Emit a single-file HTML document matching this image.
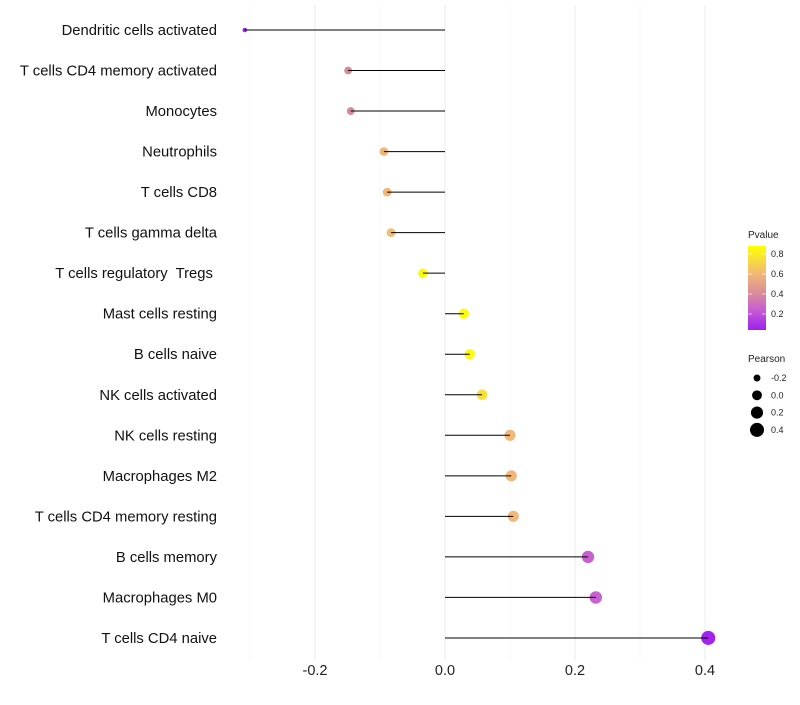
<!DOCTYPE html>
<html><head><meta charset="utf-8"><style>
body{margin:0;background:#fff;font-family:"Liberation Sans",sans-serif}
</style></head><body>
<svg id="chart" width="800" height="700" xmlns="http://www.w3.org/2000/svg"></svg>
<script>
const categories=["Dendritic cells activated","T cells CD4 memory activated","Monocytes","Neutrophils","T cells CD8","T cells gamma delta","T cells regulatory  Tregs\u00a0","Mast cells resting","B cells naive","NK cells activated","NK cells resting","Macrophages M2","T cells CD4 memory resting","B cells memory","Macrophages M0","T cells CD4 naive"];
const pearson=[-0.308,-0.149,-0.145,-0.094,-0.089,-0.083,-0.034,0.029,0.038,0.057,0.100,0.102,0.105,0.220,0.232,0.405];
const pvalue=[0.05,0.40,0.40,0.60,0.60,0.62,0.87,0.86,0.86,0.75,0.60,0.60,0.60,0.25,0.25,0.05];
const xTicks=[-0.2,0,0.2,0.4];
const xTickLabels=["-0.2","0.0","0.2","0.4"];
const pLegendTicks=[0.2,0.4,0.6,0.8];
const sizeLegend=[-0.2,0,0.2,0.4];
const sizeLegendLabels=["-0.2","0.0","0.2","0.4"];

const svg=document.getElementById('chart');
const NS="http://www.w3.org/2000/svg";
function mk(t,a,p){const e=document.createElementNS(NS,t);for(const k in a)e.setAttribute(k,a[k]);(p||svg).appendChild(e);return e;}
const x=v=>445+v*650;
const y=i=>30+i*40.53;
const r=v=>Math.sqrt(Math.max(3,12+62*(v+0.2)));
const stops=[[0.04,[160,32,240]],[0.25,[200,96,208]],[0.4,[217,138,153]],[0.6,[240,184,120]],[0.88,[255,255,0]]];
function col(p){p=Math.max(0.04,Math.min(0.88,p));for(let i=0;i<stops.length-1;i++){const a=stops[i],b=stops[i+1];if(p<=b[0]){const t=(p-a[0])/(b[0]-a[0]);const c=a[1].map((v,k)=>Math.round(v+(b[1][k]-v)*t));return `rgb(${c})`;}}return 'rgb(255,255,0)';}

for(let k=-3;k<=4;k++){const v=k/10;const g=mk('line',{x1:x(v),x2:x(v),y1:5,y2:660,stroke:k%2===0?'#ebebeb':'#f4f4f4','stroke-width':k%2===0?1:0.7});

}
xTicks.forEach((v,i)=>{const t=mk('text',{x:x(v),y:675,'text-anchor':'middle','font-size':14.5,fill:'#222'});t.textContent=xTickLabels[i];

});
categories.forEach((c,i)=>{
 const t=mk('text',{x:217,y:y(i)+5,'text-anchor':'end','font-size':14.8,fill:'#111'});t.setAttribute('xml:space','preserve');t.style.whiteSpace='pre';t.textContent=c;
 
 
 const d=mk('circle',{cx:x(pearson[i]),cy:y(i),r:r(pearson[i]),fill:col(pvalue[i])});
 
 
 const l=mk('line',{x1:x(0),x2:x(pearson[i]),y1:y(i),y2:y(i),stroke:'#000','stroke-width':1});
 
 
});
const lt=mk('text',{x:748,y:238,'font-size':10,fill:'#222'});lt.textContent='Pvalue';


const defs=mk('defs',{});const lg=mk('linearGradient',{id:'pg',x1:0,y1:1,x2:0,y2:0},defs);
stops.forEach(s=>mk('stop',{offset:(s[0]-0.04)/0.84,'stop-color':`rgb(${s[1]})`},lg));
const bar=mk('rect',{x:748,y:246,width:18,height:84,fill:'url(#pg)'});


pLegendTicks.forEach(p=>{const yy=330-(p-0.04)*100;
 mk('line',{x1:748,x2:752,y1:yy,y2:yy,stroke:'#fff','stroke-opacity':0.6});mk('line',{x1:762,x2:766,y1:yy,y2:yy,stroke:'#fff','stroke-opacity':0.6});
 const t=mk('text',{x:771,y:yy+3,'font-size':9,fill:'#222'});t.textContent=p.toFixed(1);
 
 });
const st=mk('text',{x:748,y:362,'font-size':10,fill:'#222'});st.textContent='Pearson';


sizeLegend.forEach((v,i)=>{const yy=378+i*17.3;const c=mk('circle',{cx:757,cy:yy,r:r(v),fill:'#000'});
 
 
 const t=mk('text',{x:771,y:yy+3,'font-size':9,fill:'#222'});t.textContent=sizeLegendLabels[i];
 
 });
</script>
</body></html>
